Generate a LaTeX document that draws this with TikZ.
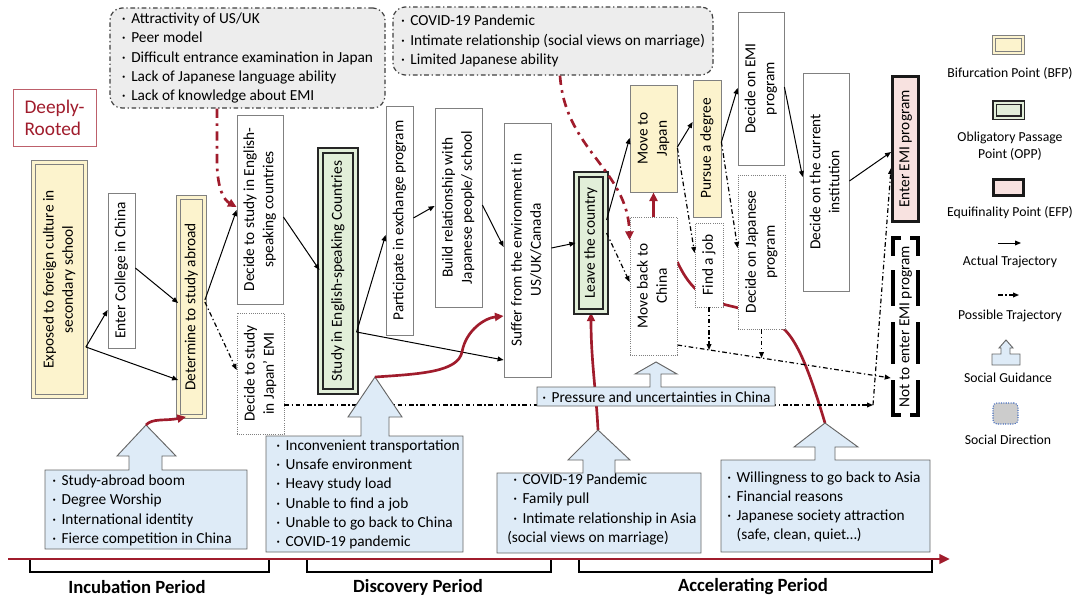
\documentclass[tikz,border=0pt]{standalone}
\usepackage{fontspec}
\setmainfont{Carlito}
\usepackage{graphicx}
\usetikzlibrary{arrows.meta,backgrounds}

\definecolor{bfpfill}{RGB}{252,243,205}
\definecolor{oppfill}{RGB}{226,239,217}
\definecolor{efpfill}{RGB}{248,226,224}
\definecolor{sgfill}{RGB}{222,235,247}
\definecolor{rootred}{RGB}{160,28,44}
\definecolor{boxgray}{RGB}{128,128,128}
\definecolor{sdblue}{RGB}{70,110,190}

\newcommand{\bul}{\makebox[7pt][l]{·}}
\newcommand{\uptext}[1]{\rotatebox{90}{\begin{tabular}{@{}c@{}}#1\end{tabular}}}

\tikzset{
  sz/.style 2 args={minimum width=#1*0.75pt, minimum height=#2*0.75pt},
  txt/.style={inner sep=0pt, font=\fontsize{11.5}{14.4}\selectfont},
  box/.style={txt, draw=boxgray, line width=0.6pt, fill=white},
  bfp/.style={box, fill=bfpfill, double=bfpfill, double distance=2.6pt},
  bfpone/.style={box, fill=bfpfill},
  opp/.style={box, draw=black!85, line width=1.6pt, fill=oppfill, double=oppfill, double distance=1.8pt},
  efp/.style={box, draw=black!90, line width=2.2pt, fill=efpfill},
  maybe/.style={box, densely dotted},
  sdir/.style={txt, align=left, draw=black!75, fill=gray!14, rounded corners=9pt, line width=0.9pt,
    dash pattern=on 3.5pt off 2pt on 1pt off 2pt},
  guide/.style={fill=sgfill, draw=boxgray!80!black, line width=0.7pt},
  acttraj/.style={-{Triangle[length=4.5pt,width=3.6pt]}, line width=0.75pt},
  posstraj/.style={acttraj, line width=0.9pt, dash pattern=on 3.5pt off 2pt on 1pt off 2pt},
  redline/.style={draw=rootred, line width=2pt},
  redtraj/.style={redline, -{Triangle[length=6.5pt,width=6pt]}},
  reddir/.style={redtraj, dash pattern=on 7pt off 4pt on 2pt off 4pt},
  brk/.style={line width=2.3pt, black},
  period/.style={inner sep=0pt, font=\fontsize{14}{16}\selectfont\bfseries},
  legend/.style={inner sep=0pt, align=center, font=\fontsize{10.3}{12.5}\selectfont}
}

\begin{document}
\begin{tikzpicture}[x=0.75pt, y=-0.75pt]
    \useasboundingbox (0,0) rectangle (1077,600);

    % Social direction
    \node[sdir, sz={275}{100}] (whyEng) at (247.5,58) {\bul Attractivity of US/UK\\ \bul Peer model\\ \bul Difficult entrance examination in Japan\\ \bul Lack of Japanese language ability\\ \bul Lack of knowledge about EMI};
    \node[sdir, sz={320}{68}] (whyJp) at (553,41) {\bul COVID-19 Pandemic\\ \bul Intimate relationship (social views on marriage)\\ \bul Limited Japanese ability};

    \node[draw=rootred!70, line width=0.6pt, text=rootred, align=left, inner sep=0pt, sz={83}{57},
      font=\fontsize{14.5}{16.5}\selectfont] (rooted) at (54.5,117.5) {Deeply-\\Rooted};

    % Trajectory
    \node[bfp, sz={52}{234}] (expo) at (59.5,279.5) {\uptext{Exposed to foreign culture in\\secondary school}};
    \node[box, sz={27}{155}] (college) at (121.5,270.5) {\uptext{Enter College in China}};
    \node[bfp, sz={26}{219}] (determ) at (191.5,307) {\uptext{Determine to study abroad}};
    \node[box, sz={46}{189}] (decEng) at (260,209.5) {\uptext{Decide to study in English-\\speaking countries}};
    \node[maybe, sz={47}{121}] (decJp) at (260.5,373.5) {\uptext{Decide to study\\in Japan' EMI}};
    \node[opp, sz={35}{241}] (studyEng) at (338,271) {\uptext{Study in English-speaking Countries}};
    \node[box, sz={27}{229}] (exch) at (399.5,220.5) {\uptext{Participate in exchange program}};
    \node[box, sz={47}{199}] (build) at (458.5,207.5) {\uptext{Build relationship with\\Japanese people/ school}};
    \node[box, sz={47}{254}] (suffer) at (527.5,250) {\uptext{Suffer from the environment in\\US/UK/Canada}};
    \node[opp, sz={29}{137}] (leave) at (591,243) {\uptext{Leave the country}};
    \node[bfpone, sz={47}{107}] (moveJp) at (653.5,138.5) {\uptext{Move to\\Japan}};
    \node[maybe, sz={47}{138}] (moveCn) at (653.5,286) {\uptext{Move back to\\China}};
    \node[bfpone, sz={28}{137}] (degree) at (707,148.5) {\uptext{Pursue a degree}};
    \node[maybe, sz={28}{84}] (job) at (709,265) {\uptext{Find a job}};
    \node[box, sz={46}{153}] (decEmi) at (761,88.5) {\uptext{Decide on EMI\\program}};
    \node[maybe, sz={47}{154}] (decJpProg) at (761.5,252) {\uptext{Decide on Japanese\\program}};
    \node[box, sz={46}{218}] (current) at (826,182) {\uptext{Decide on the current\\institution}};
    \node[efp, sz={26}{145}] (enter) at (905.5,149) {\uptext{Enter EMI program}};
    \node[txt, sz={29}{177}] (notenter) at (905.5,326.5) {\uptext{Not to enter EMI program}};

    % brackets round the non-EMI end
    \foreach \xa/\xb in {893/901, 918/910} {
      \draw[brk] (\xb,238) -- (\xa,238) -- (\xa,256);
      \draw[brk] (\xa,270) -- (\xa,306);
      \draw[brk] (\xa,322) -- (\xa,364);
      \draw[brk] (\xa,380) -- (\xa,415) -- (\xb,415);
    }

    % Social guidance
    \foreach \bl/\bt/\br/\bb/\sl/\sr/\hl/\hr/\hy/\tx/\ty [count=\i] in {
        45/470/247/549/129/162/117/176/456/146/425,
        266/436/463/552/361/389/348/402/417/375/377,
        537/387/775/406/650/661/635/677/374/656/362,
        497/473/701/553/583/615/568/630/460/598/430,
        721/460/930/552/815/835/794/858/447/825/423} {
      \draw[guide] (\bl,\bt) -- (\sl,\bt) -- (\sl,\hy) -- (\hl,\hy) -- (\tx,\ty) -- (\hr,\hy)
        -- (\sr,\hy) -- (\sr,\bt) -- (\br,\bt) -- (\br,\bb) -- (\bl,\bb) -- cycle;
      \coordinate (tip\i) at (\tx,\ty);
    }
    \node[txt, anchor=west, align=left] (sg1) at (52,510.5) {\bul Study-abroad boom\\ \bul Degree Worship\\ \bul International identity\\ \bul Fierce competition in China};
    \node[txt, anchor=west, align=left] (sg2) at (276,494.5) {\bul Inconvenient transportation\\ \bul Unsafe environment\\ \bul Heavy study load\\ \bul Unable to find a job\\ \bul Unable to go back to China\\ \bul COVID-19 pandemic};
    \node[txt, anchor=west] (sg3) at (542,397) {\bul Pressure and uncertainties in China};
    \node[txt, anchor=west, align=left] (sg4) at (507,509.5) {\hspace*{4.5pt}\bul COVID-19 Pandemic\\ \hspace*{4.5pt}\bul Family pull\\ \hspace*{4.5pt}\bul Intimate relationship in Asia\\ (social views on marriage)};
    \node[txt, anchor=west, align=left] (sg5) at (727,507) {\bul Willingness to go back to Asia\\ \bul Financial reasons\\ \bul Japanese society attraction\\ \hspace*{7pt}(safe, clean, quiet…)};

    % Actual and possible trajectories
    \draw[acttraj] (expo.east |- 0,347) -- (college.west |- 0,310);
    \draw[acttraj] (expo.east |- 0,347) -- (determ.west |- 0,380);
    \draw[acttraj] (college.east |- 0,268) -- (determ.west |- 0,303);
    \draw[acttraj] (determ.east |- 0,300) -- (decEng.west |- 0,210);
    \draw[posstraj] (determ.east |- 0,302) -- (decJp.west |- 0,370);
    \draw[acttraj] (decEng.east |- 0,217) -- (studyEng.west |- 0,270);
    \draw[acttraj] (studyEng.east |- 0,332) -- (exch.west |- 0,235);
    \draw[acttraj] (studyEng.east |- 0,332) -- (suffer.west |- 0,360);
    \draw[acttraj] (exch.east |- 0,218) -- (build.west |- 0,206);
    \draw[acttraj] (build.east |- 0,205) -- (suffer.west |- 0,247);
    \draw[acttraj] (suffer.east |- 0,248) -- (leave.west |- 0,243);
    \draw[acttraj] (leave.east |- 0,220) -- (moveJp.west |- 0,138);
    \draw[posstraj] (leave.east |- 0,233) -- (moveCn.west |- 0,282);
    \draw[acttraj] (moveJp.east |- 0,147) -- (degree.west |- 0,122);
    \draw[posstraj] (moveJp.east |- 0,148) -- (job.west |- 0,253);
    \draw[acttraj] (degree.east |- 0,142) -- (decEmi.west |- 0,88);
    \draw[posstraj] (degree.east |- 0,142) -- (decJpProg.west |- 0,248);
    \draw[acttraj] (decEmi.east |- 0,87) -- (current.west |- 0,177);
    \draw[acttraj] (current.east |- 0,181) -- (enter.west |- 0,152);
    \draw[posstraj] (job.south) -- (job.south |- 0,350);
    \draw[posstraj] (decJpProg.south) -- (decJpProg.south |- 0,358);

    % Red trajectories
    \draw[redtraj] (tip1) .. controls (152,418) and (166,421) .. (186,0 |- determ.south);
    \draw[redtraj] (tip2) .. controls (420,374) and (458,372) .. (462,352) .. controls (466,330) and (485,318) .. (suffer.west |- 0,316);
    \draw[redtraj] (moveCn.north) -- (moveJp.south);
    \draw[reddir] (217,0 |- whyEng.south) -- (217,165) .. controls (218,190) and (224,200) .. (decEng.west |- 0,207);
    \draw[reddir] (560,0 |- whyJp.south) .. controls (565,150) and (628,170) .. (moveCn.west |- 0,240);

    \coordinate (turn) at (873,405);
    \begin{scope}[on background layer]
      \draw[redtraj] (tip4) .. controls (596,390) and (591,360) .. (leave.south);
      \draw[redline] (tip5) .. controls (812,380) and (800,345) .. (785,330)
        .. controls (760,310) and (735,308) .. (715,302) .. controls (700,295) and (688,285) .. (moveCn.east |- 0,262);
      \draw[posstraj] (decJp.east |- 0,405) -- (turn);
      \draw[posstraj] (turn) -- (enter.west |- 0,168);
      \draw[posstraj] (moveCn.east |- 0,345) -- (notenter.west |- 0,378);
    \end{scope}

    % Time line
    \draw[line width=2.2pt, rootred, -{Triangle[length=8pt,width=7pt]}] (8,559) -- (950,559);
    \foreach \a/\b/\c/\t/\n in {30/269/137/Incubation Period/incub, 307/551/418/Discovery Period/discov, 579/932/753/Accelerating Period/accel} {
      \draw[line width=1.3pt] (\a,560) -- (\a,572) -- (\b,572) -- (\b,560);
      \node[period] (\n) at (\c,587) {\t};
    }

    % Legend
    \node[bfp, double distance=2pt, sz={29}{16}] (lgbfp) at (1008.5,45) {};
    \node[legend] (lgbfptxt) at (1010,73) {Bifurcation Point (BFP)};
    \node[opp, line width=1.4pt, double distance=1.5pt, sz={28}{15}] (lgopp) at (1008.5,110) {};
    \node[legend] (lgopptxt) at (1010,146.5) {Obligatory Passage\\Point (OPP)};
    \node[efp, sz={30}{16}] (lgefp) at (1008.5,187.5) {};
    \node[legend] (lgefptxt) at (1010,213) {Equifinality Point (EFP)};
    \coordinate (lga1) at (998,243);
    \coordinate (lga2) at (1021,243);
    \draw[acttraj] (lga1) -- (lga2);
    \node[legend] (lgacttxt) at (1010,262) {Actual Trajectory};
    \coordinate (lgp1) at (998,295);
    \coordinate (lgp2) at (1019,295);
    \draw[posstraj] (lgp1) -- (lgp2);
    \node[legend] (lgpostxt) at (1010,316) {Possible Trajectory};
    \draw[guide] (992,354) -- (1001,354) -- (1001,348) -- (999,348) -- (1006,340) -- (1013,348)
      -- (1010,348) -- (1010,354) -- (1020,354) -- (1020,365) -- (992,365) -- cycle;
    \node[legend] (lgsgtxt) at (1008,378) {Social Guidance};
    \node[draw=sdblue, densely dotted, line width=0.8pt, fill=gray!40, rounded corners=3pt, sz={25}{21}] (lgsd) at (1005.5,413.5) {};
    \node[legend] (lgsdtxt) at (1008,440) {Social Direction};

\end{tikzpicture}
\end{document}
